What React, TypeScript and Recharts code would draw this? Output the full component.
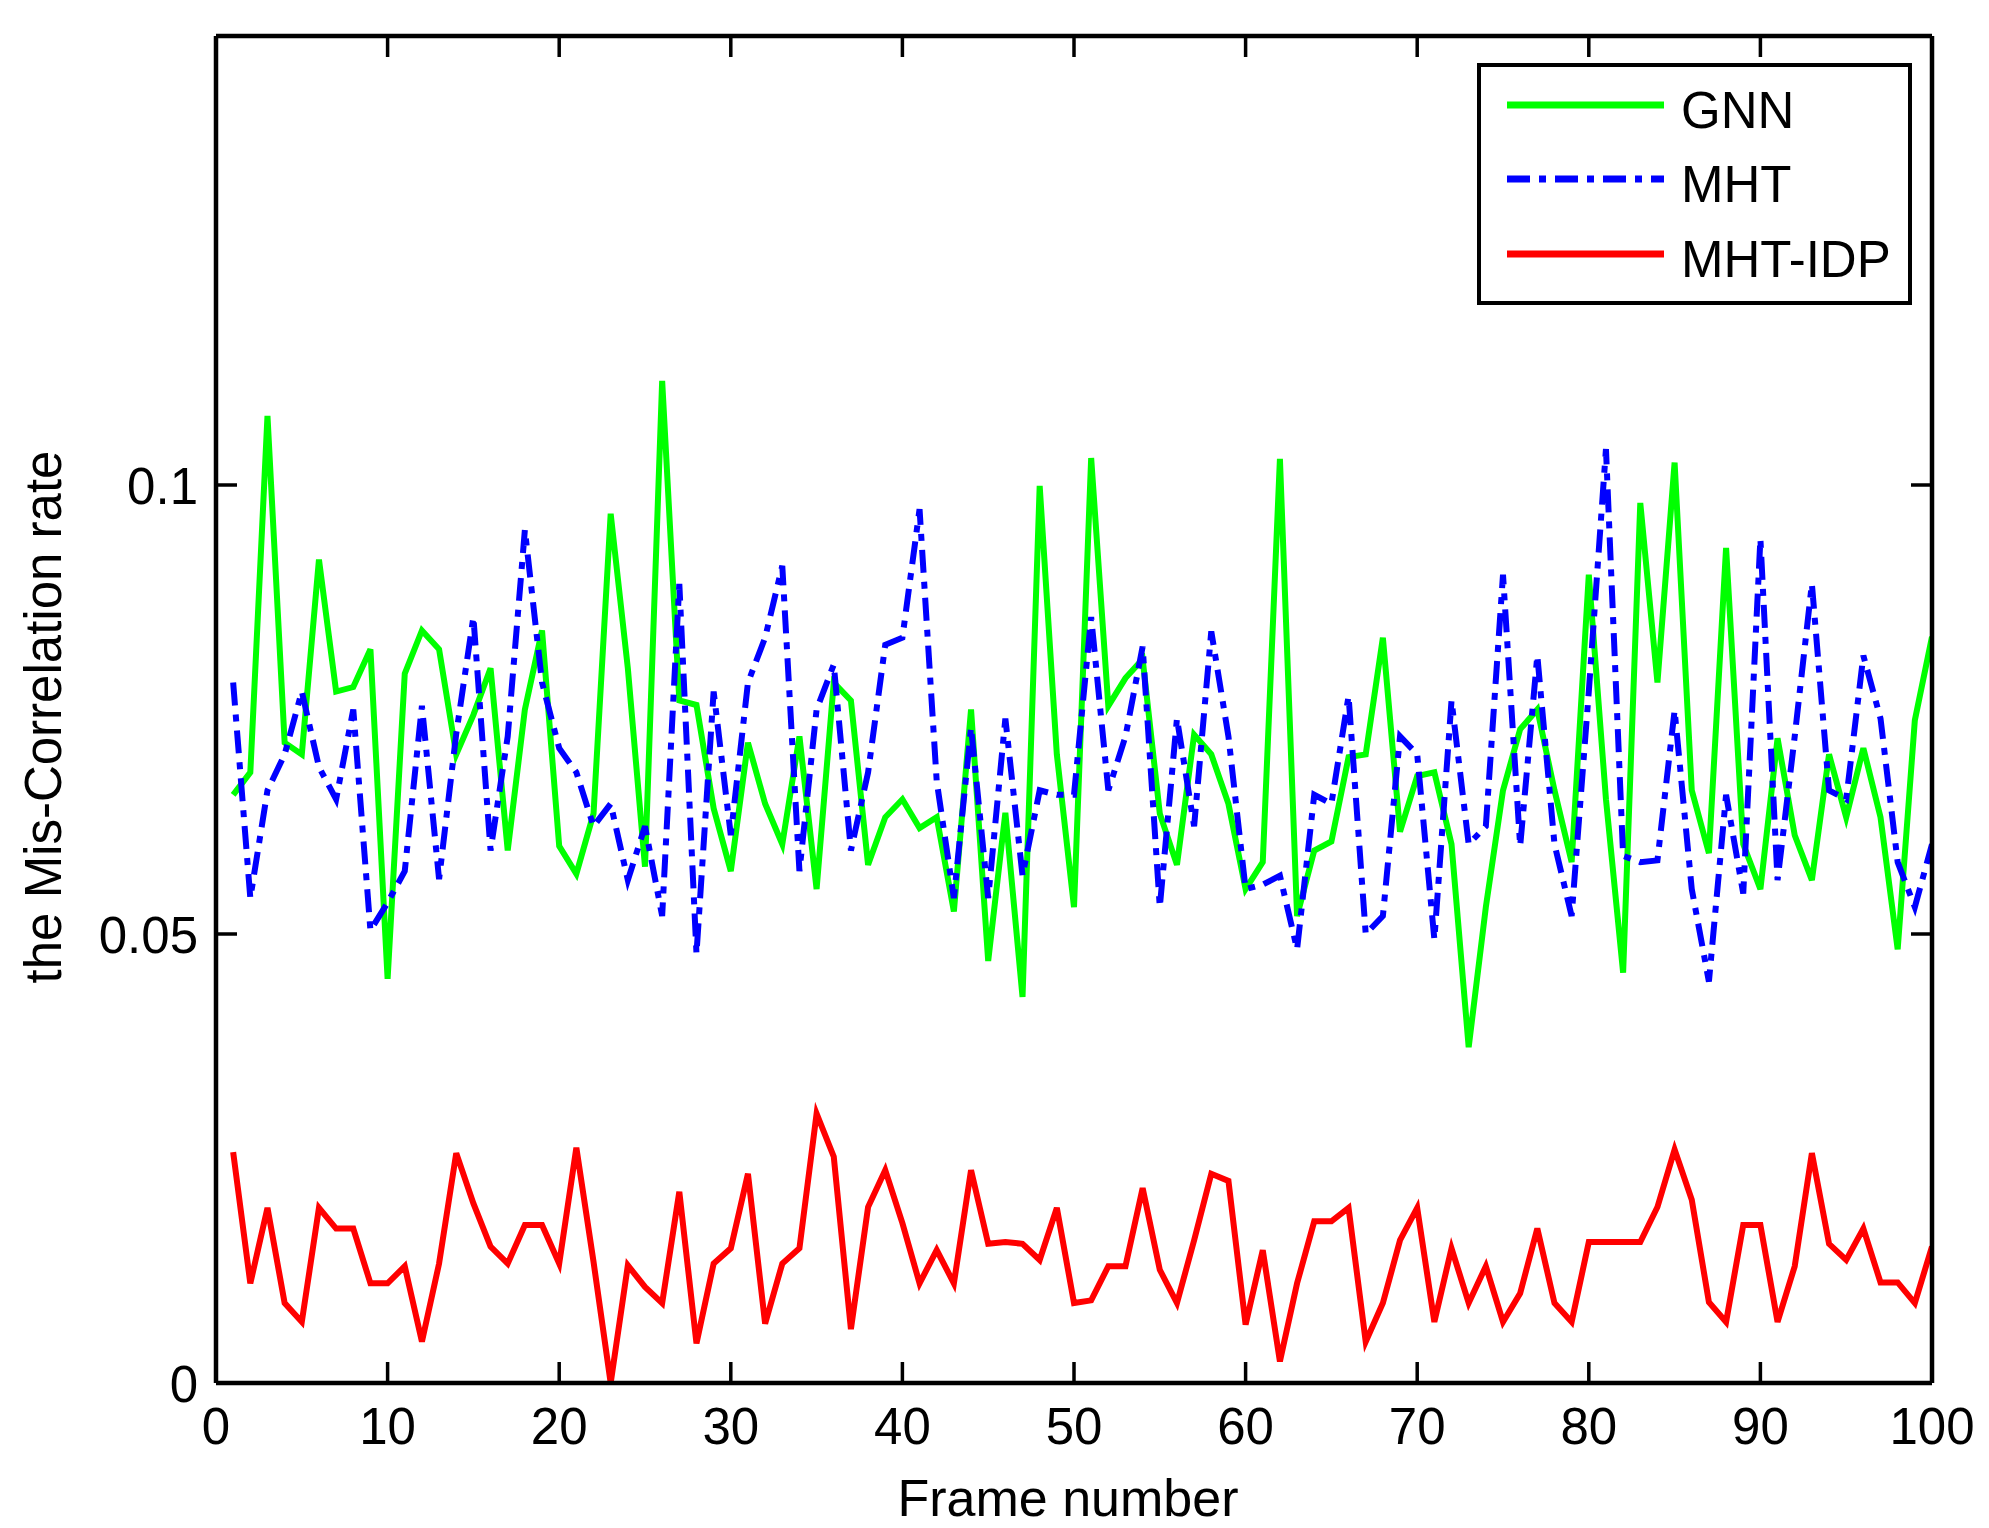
import React from 'react';
import { LineChart, Line, XAxis, YAxis, Legend } from 'recharts';

// ---- data ----
const frames: number[] = Array.from({ length: 100 }, (_, i) => i + 1);

const gnnValues: number[] = [
  0.0655, 0.068, 0.1077, 0.0713, 0.070, 0.0917, 0.077, 0.0775, 0.0817, 0.045,
  0.079, 0.0838, 0.0817, 0.070, 0.0744, 0.0796, 0.0593, 0.075, 0.0838, 0.0598,
  0.0567, 0.0634, 0.0968, 0.0796, 0.0575, 0.1116, 0.076, 0.0755, 0.064, 0.057,
  0.0713, 0.0645, 0.060, 0.072, 0.055, 0.078, 0.076, 0.0577, 0.063, 0.065,
  0.0618, 0.063, 0.0525, 0.075, 0.047, 0.0635, 0.043, 0.0999, 0.070, 0.053,
  0.103, 0.0754, 0.0785, 0.0806, 0.0634, 0.0577, 0.0722, 0.070, 0.0645, 0.055,
  0.058, 0.1029, 0.052, 0.0593, 0.0603, 0.0697, 0.070, 0.083, 0.0614, 0.0676,
  0.068, 0.060, 0.0374, 0.053, 0.066, 0.0728, 0.075, 0.066, 0.058, 0.090,
  0.065, 0.0457, 0.098, 0.078, 0.1025, 0.066, 0.059, 0.093, 0.060, 0.055,
  0.0718, 0.061, 0.056, 0.070, 0.063, 0.0707, 0.063, 0.0483, 0.0738, 0.0831,
];

const mhtValues: number[] = [
  0.078, 0.054, 0.066, 0.070, 0.077, 0.0686, 0.065, 0.075, 0.0504, 0.0535,
  0.057, 0.0754, 0.0561, 0.0723, 0.0853, 0.0593, 0.072, 0.095, 0.078, 0.0707,
  0.068, 0.062, 0.0645, 0.056, 0.062, 0.052, 0.089, 0.0478, 0.077, 0.061,
  0.078, 0.083, 0.091, 0.057, 0.075, 0.080, 0.0593, 0.068, 0.0822, 0.083,
  0.0973, 0.067, 0.054, 0.073, 0.054, 0.074, 0.0565, 0.066, 0.0655, 0.0655,
  0.0853, 0.066, 0.072, 0.082, 0.053, 0.074, 0.062, 0.0837, 0.072, 0.055,
  0.0555, 0.0565, 0.0483, 0.0655, 0.0645, 0.0765, 0.050, 0.052, 0.072, 0.070,
  0.0494, 0.076, 0.060, 0.062, 0.090, 0.0598, 0.081, 0.060, 0.052, 0.077,
  0.104, 0.0587, 0.058, 0.0582, 0.0749, 0.055, 0.0447, 0.0655, 0.0545, 0.094,
  0.056, 0.072, 0.089, 0.066, 0.065, 0.081, 0.074, 0.058, 0.053, 0.060,
];

const mhtIdpValues: number[] = [
  0.0257, 0.0111, 0.0195, 0.0089, 0.0068, 0.0195, 0.0172, 0.0172, 0.0111, 0.0111,
  0.0130, 0.0046, 0.0133, 0.0256, 0.020, 0.0152, 0.0133, 0.0176, 0.0176, 0.0133,
  0.0262, 0.0135, 0.0, 0.0131, 0.0107, 0.0089, 0.0213, 0.0044, 0.0133, 0.015,
  0.0233, 0.0066, 0.0133, 0.015, 0.030, 0.0252, 0.006, 0.0196, 0.0237, 0.0178,
  0.0111, 0.0148, 0.0111, 0.0237, 0.0155, 0.0157, 0.0155, 0.0137, 0.0195, 0.0089,
  0.0092, 0.013, 0.013, 0.0217, 0.0126, 0.0089, 0.0159, 0.0233, 0.0225, 0.0065,
  0.0148, 0.0024, 0.0111, 0.018, 0.018, 0.0195, 0.0046, 0.0089, 0.0159, 0.0195,
  0.0068, 0.015, 0.0089, 0.013, 0.0068, 0.010, 0.0172, 0.0089, 0.0068, 0.0157,
  0.0157, 0.0157, 0.0157, 0.0196, 0.026, 0.0204, 0.009, 0.0068, 0.0176, 0.0176,
  0.0068, 0.013, 0.0256, 0.0155, 0.0137, 0.0172, 0.0112, 0.0112, 0.0089, 0.0152,
];

const xTicks: number[] = [0, 10, 20, 30, 40, 50, 60, 70, 80, 90, 100];
const yTicks: number[] = [0, 0.05, 0.1];
const xDomain: [number, number] = [0, 100];
const yDomain: [number, number] = [0, 0.15];

const seriesNames: string[] = ['GNN', 'MHT', 'MHT-IDP'];
const seriesKeys: string[] = ['gnn', 'mht', 'idp'];
const seriesColors: string[] = ['#00ff00', '#0000ff', '#ff0000'];
const seriesDash: (string | undefined)[] = [undefined, '23 9 7 9', undefined];

const xTitle = 'Frame number';
const yTitle = 'the Mis-Correlation rate';

const data = frames.map((f, i) => ({
  frame: f,
  gnn: gnnValues[i],
  mht: mhtValues[i],
  idp: mhtIdpValues[i],
}));

// ---- layout ----
const W = 1973;
const H = 1512;
const Y_AXIS_W = 208;
const X_AXIS_H = 137;
const RIGHT_M = 49;
const TOP_M = 28;
const PLOT_LEFT = Y_AXIS_W;
const PLOT_BOTTOM = H - X_AXIS_H;
const TICK = 21;
const FONT = '"Liberation Sans", Arial, Helvetica, sans-serif';
const FS = 51;
const FRAME = { stroke: '#000', strokeWidth: 4.5 };
const TICKLINE = { stroke: '#000', strokeWidth: 3.5 };

const BottomLabel = (props: any) => {
  const { x, payload } = props;
  return (
    <text x={x} y={PLOT_BOTTOM + 61} textAnchor="middle" fontSize={FS} fontFamily={FONT} fill="#000">
      {String(payload.value)}
    </text>
  );
};

const LeftLabel = (props: any) => {
  const { y, payload } = props;
  return (
    <text x={PLOT_LEFT - 18} y={y + 19} textAnchor="end" fontSize={FS} fontFamily={FONT} fill="#000">
      {String(payload.value)}
    </text>
  );
};

const NoLabel = () => <g />;

const LEG_W = 435;
const LEG_H = 242;
const legendRowY = [42, 116, 191];

const LegendBox = () => (
  <svg width={LEG_W} height={LEG_H} style={{ display: 'block' }}>
    <rect x={2} y={2} width={LEG_W - 4} height={LEG_H - 4} fill="#fff" stroke="#000" strokeWidth={4} />
    {seriesNames.map((name, i) => (
      <g key={name}>
        <line
          x1={30}
          x2={187}
          y1={legendRowY[i]}
          y2={legendRowY[i]}
          stroke={seriesColors[i]}
          strokeWidth={7}
          strokeDasharray={seriesDash[i]}
        />
        <text x={204} y={legendRowY[i] + 23} fontSize={FS} fontFamily={FONT} fill="#000">
          {name}
        </text>
      </g>
    ))}
  </svg>
);

export default function App() {
  return (
    <div style={{ position: 'relative', width: W, height: H, background: '#fff' }}>
      <LineChart
        width={W}
        height={H}
        data={data}
        margin={{ top: TOP_M, right: RIGHT_M, left: 0, bottom: 0 }}
      >
        {/* label axes (reserve space) */}
        <XAxis
          xAxisId="b"
          dataKey="frame"
          type="number"
          domain={xDomain}
          ticks={xTicks}
          allowDataOverflow
          interval={0}
          height={X_AXIS_H}
          axisLine={false}
          tickLine={false}
          tickSize={0}
          tick={<BottomLabel />}
        />
        <YAxis
          yAxisId="l"
          type="number"
          domain={yDomain}
          ticks={yTicks}
          allowDataOverflow
          interval={0}
          width={Y_AXIS_W}
          axisLine={false}
          tickLine={false}
          tickSize={0}
          tick={<LeftLabel />}
        />
        {/* mirrored frame axes with inward tick marks */}
        <XAxis
          xAxisId="bm"
          orientation="bottom"
          mirror
          dataKey="frame"
          type="number"
          domain={xDomain}
          ticks={xTicks}
          allowDataOverflow
          interval={0}
          height={30}
          tickSize={TICK}
          axisLine={FRAME}
          tickLine={TICKLINE}
          tick={<NoLabel />}
        />
        <XAxis
          xAxisId="tm"
          orientation="top"
          mirror
          dataKey="frame"
          type="number"
          domain={xDomain}
          ticks={xTicks}
          allowDataOverflow
          interval={0}
          height={30}
          tickSize={TICK}
          axisLine={FRAME}
          tickLine={TICKLINE}
          tick={<NoLabel />}
        />
        <YAxis
          yAxisId="lm"
          orientation="left"
          mirror
          type="number"
          domain={yDomain}
          ticks={yTicks}
          allowDataOverflow
          interval={0}
          width={30}
          tickSize={TICK}
          axisLine={FRAME}
          tickLine={TICKLINE}
          tick={<NoLabel />}
        />
        <YAxis
          yAxisId="rm"
          orientation="right"
          mirror
          type="number"
          domain={yDomain}
          ticks={yTicks}
          allowDataOverflow
          interval={0}
          width={30}
          tickSize={TICK}
          axisLine={FRAME}
          tickLine={TICKLINE}
          tick={<NoLabel />}
        />
        {seriesKeys.map((k, i) => (
          <Line
            key={k}
            xAxisId="b"
            yAxisId="l"
            type="linear"
            dataKey={k}
            name={seriesNames[i]}
            stroke={seriesColors[i]}
            strokeWidth={6}
            strokeDasharray={seriesDash[i]}
            dot={false}
            activeDot={false}
            isAnimationActive={false}
          />
        ))}
        <Legend
          layout="vertical"
          align="center"
          verticalAlign="middle"
          wrapperStyle={{ left: 1469, top: 55, width: LEG_W, height: LEG_H, margin: 0, padding: 0 }}
          content={() => <LegendBox />}
        />
      </LineChart>
      <svg
        width={W}
        height={H}
        style={{ position: 'absolute', left: 0, top: 0, pointerEvents: 'none', overflow: 'visible' }}
      >
        <text x={1060} y={1508} textAnchor="middle" fontSize={52} fontFamily={FONT} fill="#000">
          {xTitle}
        </text>
        <text
          transform="translate(53, 709) rotate(-90)"
          x={0}
          y={0}
          textAnchor="middle"
          fontSize={FS}
          fontFamily={FONT}
          fill="#000"
        >
          {yTitle}
        </text>
      </svg>
    </div>
  );
}
